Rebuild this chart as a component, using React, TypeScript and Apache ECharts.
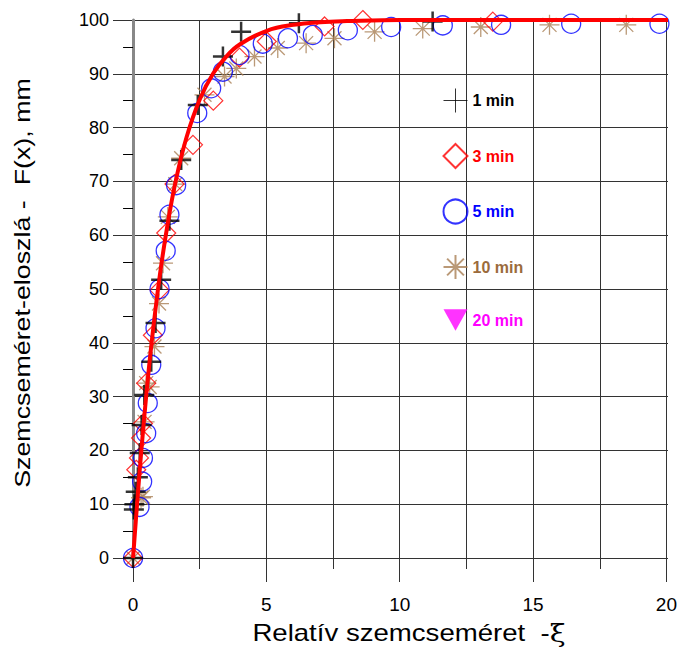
import React, { useEffect, useRef } from 'react';
import * as echarts from 'echarts';

// ---- data ----
const seriesNames = ['1 min', '3 min', '5 min', '10 min', '20 min'];

const min1X = [0, 0.03, 0.05, 0.1, 0.18, 0.25, 0.32, 0.42, 0.68, 0.84, 1.05, 1.36, 1.8, 2.42, 3.36, 4.04, 6.2, 11.2];
const min1Y = [0, 9, 10, 12.3, 15, 19.5, 24.7, 30.3, 36.5, 43.7, 51.7, 62.7, 74, 84.2, 93.2, 97.8, 99.4, 99.7];

const min3X = [0, 0.12, 0.22, 0.3, 0.37, 0.49, 0.74, 0.99, 1.24, 1.55, 2.24, 3.0, 3.98, 5.0, 7.16, 8.59, 13.45];
const min3Y = [0, 16.4, 18.6, 22.3, 25, 32.5, 41.4, 49.8, 60.4, 69.5, 76.8, 85, 93, 96, 98.8, 100, 99.7];

const min5X = [0, 0.24, 0.34, 0.37, 0.49, 0.55, 0.68, 0.84, 0.99, 1.22, 1.36, 1.61, 2.4, 2.92, 3.36, 3.98, 4.85, 5.79, 6.72, 8.03, 9.65, 11.58, 13.76, 16.38, 19.68];
const min5Y = [0, 9.5, 14.2, 18.6, 23.2, 28.8, 35.9, 42.7, 50, 57.1, 63.8, 69.3, 82.7, 87.3, 90.4, 93.5, 95.6, 96.6, 97.2, 98.1, 98.7, 99, 99.1, 99.3, 99.3];

const min10X = [0, 0.3, 0.37, 0.43, 0.49, 0.62, 0.8, 0.97, 1.12, 1.3, 1.58, 1.8, 2.67, 3.42, 3.86, 4.54, 5.41, 6.47, 7.53, 9.03, 10.83, 13.0, 15.57, 18.44];
const min10Y = [0, 11.2, 11.4, 25.3, 32.5, 31.8, 39.3, 47.3, 54.8, 63.4, 69.5, 74.3, 86.1, 89.5, 91, 93.2, 94.8, 95.7, 96.6, 97.8, 98.4, 98.7, 99.1, 99.1];

const min20X: number[] = [];
const min20Y: number[] = [];

const curveX = [0, 0.1, 0.2, 0.3, 0.5, 0.7, 1.0, 1.3, 1.6, 2.0, 2.5, 3.0, 3.5, 4.0, 5.0, 6.0, 7.0, 8.0, 10, 15, 20];
const curveY = [0, 6.7, 13.2, 19.4, 30.6, 40.3, 52.5, 62.3, 70.2, 78.2, 85.3, 90.1, 93.3, 95.5, 98.0, 99.1, 99.6, 99.8, 100, 100, 100];

const xMin = 0;
const xMax = 20;
const xMajor = 5;
const yMin = 0;
const yMax = 100;
const yMajor = 10;

const xTitle = 'Relatív szemcseméret  -';
const xTitleSym = 'ξ';
const yTitle = 'Szemcseméret-eloszlá -  F(x), mm';

const zip = (a: number[], b: number[]) => a.map((v, i) => [v, b[i]]);

const PLUS = 'path://M0,10H20M10,0V20';
const STAR = 'path://M0,10H20M10,0V20M3,3L17,17M17,3L3,17';
const TRI = 'path://M0,0L20,0L10,18Z';

const colors = ['#000000', '#ff0000', '#0000ff', '#a97f55', '#ff00ff'];
const textColors = ['#000000', '#ff0000', '#0000ff', '#9b6b3c', '#ff00ff'];

export default function App() {
  const ref = useRef<HTMLDivElement>(null);
  useEffect(() => {
    if (!ref.current) return;
    const chart = echarts.init(ref.current, null, { renderer: 'svg' });
    const font = 'Liberation Sans, Arial, sans-serif';
    const gridLeft = 113;
    const gridRight = 12;
    const gridTop = 20;
    const gridBottom = 93;
    const gridW = 680 - gridLeft - gridRight;
    const leftPad = 0.75;
    const x0px = gridLeft + (gridW * leftPad) / (xMax + leftPad);
    const lineColor = '#333';

    const common = { type: 'scatter' as const, xAxisIndex: 0, yAxisIndex: 0, clip: false };

    const option: any = {
      animation: false,
      backgroundColor: '#fff',
      grid: [
        { left: gridLeft, right: gridRight, top: gridTop, bottom: gridBottom },
        { left: x0px, right: gridRight, top: gridTop, bottom: gridBottom },
      ],
      xAxis: [
        {
          gridIndex: 0, type: 'value', min: -leftPad, max: xMax,
          axisLine: { show: false }, axisTick: { show: false }, axisLabel: { show: false }, splitLine: { show: false },
        },
        {
          gridIndex: 1, type: 'value', min: xMin, max: xMax, interval: xMajor,
          axisLine: { show: false },
          axisTick: { show: true, length: 24, lineStyle: { color: lineColor, width: 1 } },
          minorTick: { show: true, splitNumber: 2, length: 11, lineStyle: { color: lineColor, width: 1 } },
          splitLine: { show: true, lineStyle: { color: lineColor, width: 1 } },
          minorSplitLine: { show: true, lineStyle: { color: lineColor, width: 1 } },
          axisLabel: { show: true, margin: 37, fontSize: 19, color: '#000', fontFamily: font },
        },
      ],
      yAxis: [
        {
          gridIndex: 0, type: 'value', min: yMin, max: yMax, interval: yMajor,
          axisLine: { show: false }, axisTick: { show: false },
          splitLine: { show: true, lineStyle: { color: lineColor, width: 1 } },
          axisLabel: { show: true, margin: 4, fontSize: 18, color: '#000', fontFamily: font },
        },
        {
          gridIndex: 1, type: 'value', min: yMin, max: yMax, interval: yMajor,
          axisLine: { show: true, lineStyle: { color: '#888', width: 3 } },
          axisTick: { show: false },
          minorTick: { show: true, splitNumber: 2, length: 10, lineStyle: { color: '#000', width: 1 } },
          splitLine: { show: false },
          axisLabel: { show: false },
        },
      ],
      legend: {
        orient: 'vertical',
        left: 436,
        top: 81,
        itemWidth: 24,
        itemHeight: 24,
        itemGap: 26.5,
        selectedMode: false,
        textStyle: { fontFamily: font, fontWeight: 'bold', fontSize: 16, padding: [0, 0, 0, 0], lineHeight: 24 },
        data: seriesNames.map((n, i) => ({
          name: n,
          textStyle: { color: textColors[i], fontWeight: 'bold', fontSize: 16 },
          itemStyle: i === 0 ? { borderWidth: 1 } : undefined,
        })),
      },
      series: [
        {
          ...common, name: seriesNames[3], data: zip(min10X, min10Y), symbol: STAR, symbolSize: 20,
          itemStyle: { color: 'none', borderColor: colors[3], borderWidth: 1.3 },
        },
        {
          ...common, name: seriesNames[1], data: zip(min3X, min3Y), symbol: 'diamond', symbolSize: 19,
          itemStyle: { color: 'none', borderColor: colors[1], borderWidth: 1.2 },
        },
        {
          ...common, name: seriesNames[2], data: zip(min5X, min5Y), symbol: 'circle', symbolSize: 19,
          itemStyle: { color: 'none', borderColor: colors[2], borderWidth: 1.3 },
        },
        {
          ...common, name: seriesNames[0], data: zip(min1X, min1Y), symbol: PLUS, symbolSize: 20,
          itemStyle: { color: 'none', borderColor: colors[0], borderWidth: 2.5 },
        },
        {
          ...common, name: seriesNames[4], data: zip(min20X, min20Y), symbol: TRI, symbolSize: [24, 22],
          itemStyle: { color: colors[4], borderColor: colors[4], borderWidth: 0 },
        },
        {
          type: 'line', name: 'fit', xAxisIndex: 0, yAxisIndex: 0, data: zip(curveX, curveY),
          smooth: 0.4, showSymbol: false, symbol: 'none', z: 10, clip: false,
          lineStyle: { color: '#ff0000', width: 4 },
        },
      ],
      graphic: [
        {
          type: 'text', x: 409, y: 633, scaleX: 1.2,
          style: {
            text: xTitle + '{g|' + xTitleSym + '}',
            fontFamily: font,
            fontSize: 23, fill: '#000', align: 'center', verticalAlign: 'middle',
            rich: { g: { fontFamily: 'DejaVu Serif, Liberation Serif, serif', fontSize: 24, fill: '#000' } },
          },
        },
        {
          type: 'text', x: 22, y: 283, rotation: Math.PI / 2, scaleX: 1.22,
          style: {
            text: yTitle, fontFamily: font, fontSize: 22, fill: '#000',
            align: 'center', verticalAlign: 'middle',
          },
        },
      ],
    };
    chart.setOption(option);
    return () => chart.dispose();
  }, []);
  return <div ref={ref} style={{ position: 'absolute', left: 0, top: 0, width: 680, height: 651 }} />;
}
